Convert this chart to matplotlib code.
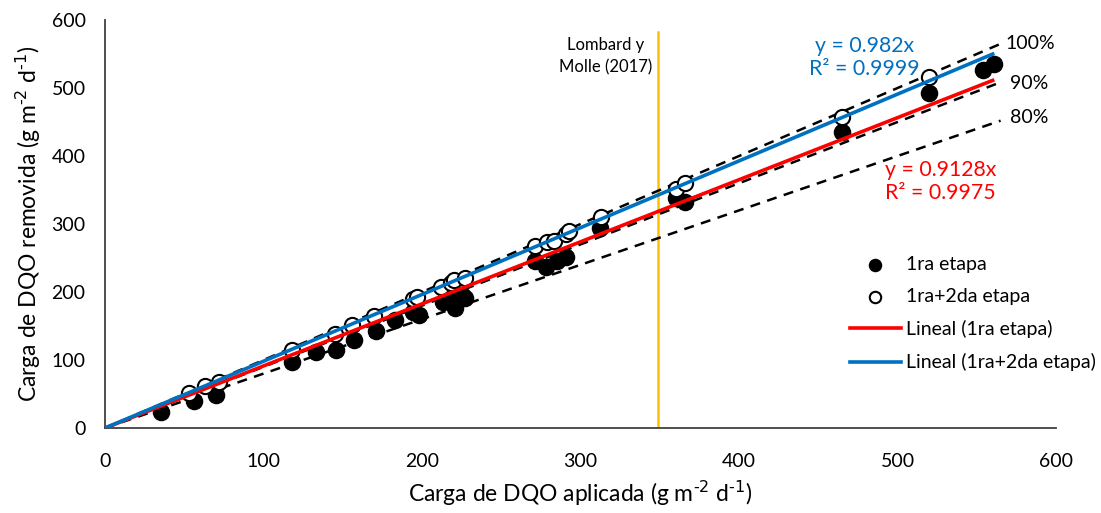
import matplotlib
matplotlib.use("Agg")
import matplotlib.pyplot as plt
import numpy as np

plt.rcParams['font.family'] = ['Lato', 'DejaVu Sans']

# 1ra etapa (filled)
x1 = [35, 56, 70, 118, 133, 146, 157, 171, 183, 194, 198, 213, 218, 221, 225, 227,
      271, 278, 285, 291, 312, 360, 366, 465, 520, 554, 561]
y1 = [23, 40, 49, 97, 112, 115, 129, 142, 159, 171, 166, 186, 190, 176, 195, 191,
      245, 237, 245, 252, 294, 338, 332, 436, 493, 526, 536]
# 1ra+2da etapa (open)
x2 = [53, 63, 72, 118, 145, 156, 170, 194, 197, 212, 218, 220, 227,
      271, 279, 283, 291, 293, 313, 360, 366, 465, 520]
y2 = [52, 62, 68, 114, 138, 152, 165, 190, 193, 208, 213, 217, 221,
      268, 274, 275, 285, 289, 310, 352, 360, 458, 516]

slope1 = 0.9128
slope2 = 0.982
ref_pcts = [1.0, 0.9, 0.8]
ref_labels = ['100%', '90%', '80%']
ref_label_y = [565, 507, 456]
lombard_x = 349

fig = plt.figure(figsize=(11.01, 5.13), dpi=100)
ax = fig.add_axes([0.0954, 0.1657, 0.8638, 0.7953])

xx = np.array([0, 565])
for p in ref_pcts:
    ax.plot(xx, p * xx, color='black', ls=(0, (4, 3)), lw=1.8, zorder=2)

ax.axvline(lombard_x, color='#FFC000', lw=1.8, ymin=0, ymax=0.97, zorder=1)

ax.scatter(x1, y1, s=135, color='black', zorder=3, label='1ra etapa')
ax.scatter(x2, y2, s=120, facecolor='white', edgecolor='black', linewidths=1.5,
           zorder=4, label='1ra+2da etapa')

xf = np.array([0, 560])
ax.plot(xf, slope1 * xf, color='#FF0000', lw=2.6, zorder=5, label='Lineal (1ra etapa)')
ax.plot(xf, slope2 * xf, color='#0070C0', lw=2.6, zorder=5, label='Lineal (1ra+2da etapa)')

for lab, yy in zip(ref_labels, ref_label_y):
    ax.text(568 if lab == '100%' else 571, yy, lab, fontsize=14, va='center', ha='left')

ax.text(479, 545, 'y = 0.982x\nR² = 0.9999', color='#0070C0', fontsize=15.3,
        ha='center', va='center', linespacing=1.2)
ax.text(527, 362, 'y = 0.9128x\nR² = 0.9975', color='#FF0000', fontsize=15.3,
        ha='center', va='center', linespacing=1.2)
ax.text(316, 547, 'Lombard y\nMolle (2017)', fontsize=12, ha='center', va='center',
        multialignment='center', linespacing=1.45)

ax.set_xlim(0, 600)
ax.set_ylim(0, 600)
ax.set_xticks(range(0, 601, 100))
ax.set_yticks(range(0, 601, 100))
ax.tick_params(length=0, labelsize=14)
ax.tick_params(axis='x', pad=18)
ax.tick_params(axis='y', pad=14)
for s in ['top', 'right']:
    ax.spines[s].set_visible(False)
for s in ['left', 'bottom']:
    ax.spines[s].set_color('#404040')
    ax.spines[s].set_linewidth(1.3)

ax.set_xlabel('Carga de DQO aplicada (g m$^{\\text{-2}}$ d$^{\\text{-1}}$)', fontsize=16.5, labelpad=6)
ax.set_ylabel('Carga de DQO removida (g m$^{\\text{-2}}$ d$^{\\text{-1}}$)', fontsize=16.5, labelpad=6)

leg = ax.legend(loc='upper left', bbox_to_anchor=(0.765, 0.465), frameon=False,
                fontsize=14, handlelength=2.6, handletextpad=0.25, labelspacing=0.78,
                markerscale=0.75)

fig.savefig('out.png', dpi=100)
